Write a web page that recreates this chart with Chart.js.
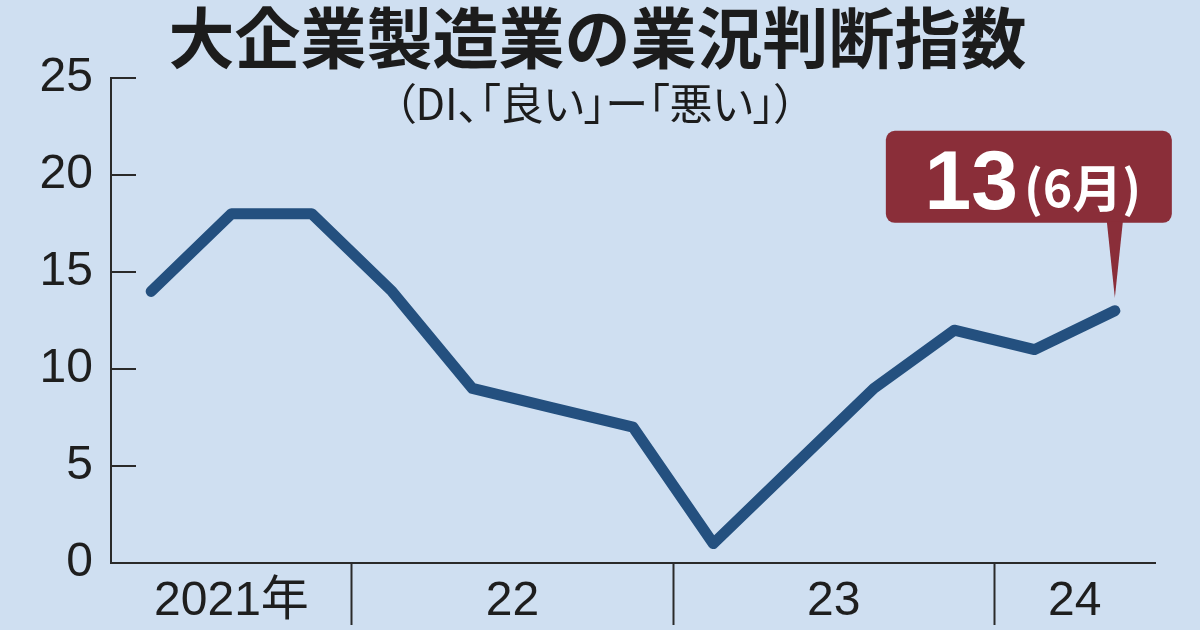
<!DOCTYPE html>
<html lang="ja">
<head>
<meta charset="utf-8">
<script src="https://cdn.jsdelivr.net/npm/chart.js@4.4.1/dist/chart.umd.min.js"></script>
<style>
	html, body { margin: 0; padding: 0; background: #cfdff1; }
	#wrap { position: relative; width: 1200px; height: 630px; overflow: hidden; }
	#chart { position: absolute; left: 0; top: 0; }
	.title { position: absolute; left: 0; width: 1195px; top: -3px; text-align: center; font-family: 'Noto Sans CJK JP', sans-serif; font-weight: 700; font-size: 66px; line-height: 74px; color: #1c1c1c; }
	.sub { position: absolute; left: 0; width: 1190px; top: 75px; text-align: center; font-family: 'Noto Sans CJK JP', sans-serif; font-weight: 400; font-size: 43px; line-height: 52px; color: #1c1c1c; font-feature-settings: "palt"; }
</style>
</head>
<body>
<div id="wrap">
	<canvas id="chart" width="1200" height="630"></canvas>
	<div class="title">大企業製造業の業況判断指数</div>
	<div class="sub">（DI、「良い」ー「悪い」）</div>
</div>
<script>
	// 日銀短観 大企業製造業 DI (quarterly, 2021年6月 .. 2024年6月)
	const yearOf = [2021, 2021, 2021, 2022, 2022, 2022, 2022, 2023, 2023, 2023, 2023, 2024, 2024];
	const monthOf = [6, 9, 12, 3, 6, 9, 12, 3, 6, 9, 12, 3, 6];
	const diValues = [14, 18, 18, 14, 9, 8, 7, 1, 5, 9, 12, 11, 13];
	const yearLabels = ['2021年', '22', '23', '24'];
	const yTicks = [0, 5, 10, 15, 20, 25];

	const lineColor = '#24507f',
		  axisColor = '#2a2a2a',
		  textColor = '#1e1e1e',
		  calloutColor = '#8a2e39';
	const numFont = "'Liberation Sans', Arial, 'Noto Sans CJK JP', sans-serif";

	// year label in the middle of its quarters, separator between years
	const years = [...new Set(yearOf)];
	const labelAt = {};
	const separators = [];
	years.forEach((yr, i) => {
		const first = yearOf.indexOf(yr),
			  last = yearOf.lastIndexOf(yr);
		labelAt[(first + last) / 2] = yearLabels[i];
		if (i < years.length - 1) separators.push(last + 0.5);
	});
	const xTickValues = Object.keys(labelAt).map(Number).concat(separators).sort((a, b) => a - b);

	// y ticks point into the plot
	const innerTicks = {
		id: 'innerTicks',
		afterDraw(chart) {
			const {ctx, chartArea, scales: {y}} = chart;
			ctx.save();
			ctx.strokeStyle = axisColor;
			ctx.lineWidth = 2;
			y.ticks.forEach(t => {
				if (t.value === 0) return;
				const py = Math.round(y.getPixelForValue(t.value));
				ctx.beginPath();
				ctx.moveTo(chartArea.left, py);
				ctx.lineTo(chartArea.left + 25, py);
				ctx.stroke();
			});
			ctx.restore();
		}
	};

	// latest value bubble
	const callout = {
		id: 'callout',
		afterDraw(chart) {
			const ctx = chart.ctx;
			const meta = chart.getDatasetMeta(0);
			const idx = meta.data.length - 1;
			const px = meta.data[idx].x,
				  py = meta.data[idx].y;
			const left = px - 229, right = px + 57,
				  top = py - 180, bottom = py - 88;

			ctx.save();
			ctx.fillStyle = calloutColor;
			ctx.beginPath();
			ctx.roundRect(left, top, right - left, bottom - top, 9);
			ctx.fill();
			ctx.beginPath();
			ctx.moveTo(px - 8, bottom - 1);
			ctx.lineTo(px + 8, bottom - 1);
			ctx.lineTo(px, py - 13);
			ctx.closePath();
			ctx.fill();

			const big = String(diValues[idx]),
				  small = '(' + monthOf[idx] + '月)';
			const bigFont = "bold 84px 'Liberation Sans', Arial, sans-serif",
				  smallFont = "bold 50px 'Noto Sans CJK JP', sans-serif";
			ctx.font = bigFont;
			const wb = ctx.measureText(big).width;
			ctx.font = smallFont;
			const ws = ctx.measureText(small).width;
			const gap = 6;
			let tx = (left + right) / 2 + 4 - (wb + gap + ws) / 2;
			const base = bottom - 14;

			ctx.fillStyle = '#ffffff';
			ctx.textBaseline = 'alphabetic';
			ctx.textAlign = 'left';
			ctx.font = bigFont;
			ctx.fillText(big, tx, base);
			ctx.font = smallFont;
			ctx.fillText(small, tx + wb + gap, base - 2);
			ctx.restore();
		}
	};

	new Chart(document.querySelector('#chart'), {
		type: 'line',
		data: {
			datasets: [{
				data: diValues.map((v, i) => ({x: i, y: v})),
				borderColor: lineColor,
				borderWidth: 11,
				borderCapStyle: 'round',
				borderJoinStyle: 'round',
				pointRadius: 0,
				tension: 0,
			}]
		},
		options: {
			responsive: false,
			animation: false,
			devicePixelRatio: 1,
			layout: {
				padding: {top: 78, right: 45, left: 0, bottom: 0}
			},
			plugins: {
				legend: {display: false},
				tooltip: {enabled: false},
			},
			scales: {
				x: {
					type: 'linear',
					min: -0.5,
					max: diValues.length - 0.5,
					afterFit: s => { s.height = 67; },
					afterBuildTicks: s => { s.ticks = xTickValues.map(v => ({value: v})); },
					border: {display: true, color: axisColor, width: 2},
					grid: {
						drawOnChartArea: false,
						drawTicks: true,
						tickLength: 62,
						tickWidth: 2,
						tickColor: c => (c.tick && separators.includes(c.tick.value)) ? axisColor : 'rgba(0,0,0,0)',
					},
					ticks: {
						autoSkip: false,
						maxRotation: 0,
						padding: -52,
						color: textColor,
						font: {family: numFont, size: 48},
						callback: v => labelAt[v] || '',
					},
				},
				y: {
					min: 0,
					max: 25,
					afterFit: s => { s.width = 111; },
					afterBuildTicks: s => { s.ticks = yTicks.map(v => ({value: v})); },
					border: {display: true, color: axisColor, width: 2},
					grid: {drawOnChartArea: false, drawTicks: false},
					ticks: {
						padding: 18,
						color: textColor,
						font: {family: numFont, size: 48},
					},
				},
			},
		},
		plugins: [innerTicks, callout],
	});
</script>
</body>
</html>
